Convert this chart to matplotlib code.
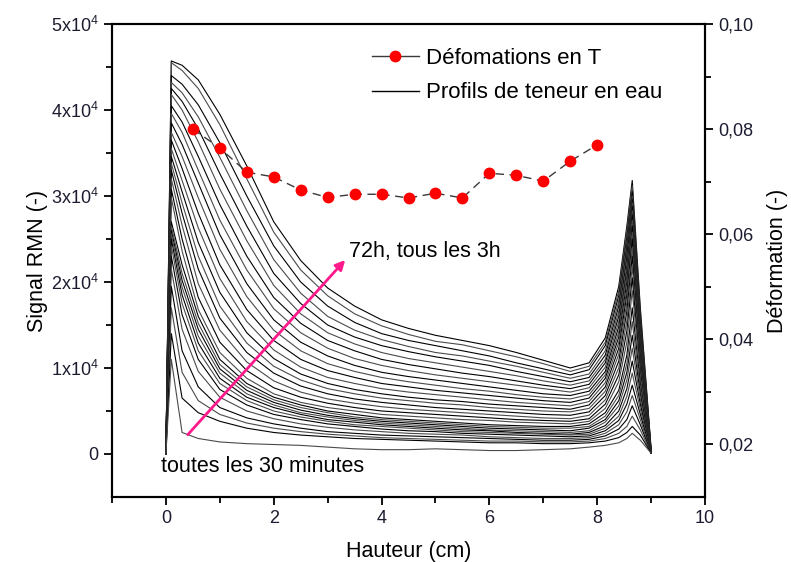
import numpy as np
import matplotlib
matplotlib.use('Agg')
import matplotlib.pyplot as plt
from matplotlib.lines import Line2D
from matplotlib.ticker import MultipleLocator, FixedLocator, FixedFormatter

plt.rcParams['font.family'] = ['Liberation Sans', 'DejaVu Sans']
plt.rcParams['mathtext.fontset'] = 'custom'
plt.rcParams['mathtext.rm'] = 'Liberation Sans'
plt.rcParams['mathtext.it'] = 'Liberation Sans:italic'

# deformation measured every 0.5 cm
def_x = [0.5, 1.0, 1.5, 2.0, 2.5, 3.0, 3.5, 4.0, 4.5, 5.0, 5.5, 6.0, 6.5, 7.0, 7.5, 8.0]
def_y = [0.0800, 0.0764, 0.0718, 0.0709, 0.0684, 0.0670, 0.0676, 0.0676,
         0.0669, 0.0678, 0.0669, 0.0716, 0.0712, 0.0701, 0.0739, 0.0770]

# NMR profiles (signal in units of 1e3), sampled along the height
prof_x = [0.0, 0.1, 0.3, 0.6, 1.0, 1.5, 2.0, 2.5, 3.0, 3.5, 4.0, 4.5, 5.0,
          5.5, 6.0, 6.5, 7.0, 7.5, 7.85, 8.15, 8.4, 8.55, 8.65, 8.8, 9.0]

# every 3h up to 72h
late_profiles = [
    [0, 45.7, 45.2, 43.5, 39.5, 33.5, 27.0, 22.5, 19.3, 17.2, 15.6, 14.6, 13.8, 13.2, 12.6, 11.8, 10.9, 10.0, 10.6, 13.5, 19.5, 26.5, 31.8, 17.0, 0.6],
    [0, 45.5, 44.6, 42.5, 38.3, 32.0, 25.8, 21.4, 18.4, 16.3, 14.9, 13.9, 13.1, 12.7, 12.0, 11.3, 10.5, 9.6, 10.2, 13.0, 19.0, 26.0, 31.2, 16.5, 0.5],
    [0, 44.0, 43.0, 40.6, 36.2, 30.0, 24.2, 20.0, 17.2, 15.3, 14.0, 13.2, 12.6, 12.0, 11.4, 10.6, 9.9, 9.2, 9.8, 12.6, 18.4, 25.2, 30.5, 16.0, 0.4],
    [0, 43.2, 42.0, 39.2, 34.5, 28.3, 22.6, 18.7, 16.0, 14.4, 13.3, 12.5, 11.8, 11.4, 10.8, 10.2, 9.5, 8.8, 9.3, 12.0, 17.8, 24.6, 30.0, 15.4, 0.3],
    [0, 42.5, 41.0, 37.8, 32.6, 26.5, 21.0, 17.5, 15.0, 13.6, 12.6, 11.9, 11.3, 10.8, 10.3, 9.6, 9.0, 8.4, 8.9, 11.5, 17.2, 24.0, 29.6, 15.0, 0.3],
    [0, 41.8, 40.0, 36.3, 30.8, 24.8, 19.6, 16.3, 14.1, 12.8, 11.8, 11.1, 10.6, 10.1, 9.6, 9.1, 8.5, 8.0, 8.5, 11.0, 16.6, 23.4, 29.2, 14.6, 0.2],
    [0, 40.5, 38.6, 34.6, 29.0, 23.0, 18.2, 15.2, 13.2, 12.0, 11.0, 10.4, 9.9, 9.4, 9.0, 8.5, 8.0, 7.6, 8.1, 10.6, 16.0, 22.8, 28.8, 14.2, 0.2],
    [0, 39.6, 37.4, 33.0, 27.2, 21.4, 16.9, 14.1, 12.3, 11.1, 10.3, 9.7, 9.2, 8.8, 8.4, 8.0, 7.6, 7.2, 7.7, 10.1, 15.4, 22.0, 28.3, 13.8, 0.2],
    [0, 38.5, 36.0, 31.5, 25.5, 19.8, 15.6, 13.0, 11.4, 10.3, 9.5, 9.0, 8.6, 8.2, 7.8, 7.4, 7.0, 6.8, 7.3, 9.6, 14.8, 21.4, 27.8, 13.4, 0.1],
    [0, 37.4, 34.6, 29.8, 23.8, 18.3, 14.4, 12.0, 10.5, 9.6, 8.9, 8.4, 8.0, 7.6, 7.3, 6.9, 6.6, 6.4, 6.9, 9.2, 14.2, 20.8, 27.2, 13.0, 0.1],
    [0, 36.5, 33.2, 28.0, 22.0, 16.8, 13.2, 11.0, 9.7, 8.9, 8.2, 7.8, 7.4, 7.1, 6.8, 6.5, 6.2, 6.0, 6.5, 8.8, 13.6, 20.0, 26.5, 12.6, 0.1],
    [0, 35.5, 31.8, 26.3, 20.4, 15.4, 12.1, 10.1, 8.9, 8.2, 7.6, 7.2, 6.9, 6.6, 6.3, 6.0, 5.8, 5.6, 6.1, 8.3, 13.0, 19.2, 25.8, 12.2, 0.1],
    [0, 34.6, 30.5, 24.6, 18.8, 14.1, 11.1, 9.3, 8.2, 7.5, 7.0, 6.6, 6.3, 6.1, 5.8, 5.6, 5.4, 5.2, 5.7, 7.8, 12.3, 18.5, 25.0, 11.8, 0.1],
    [0, 33.8, 29.2, 23.0, 17.2, 12.9, 10.2, 8.6, 7.6, 7.0, 6.5, 6.2, 5.9, 5.7, 5.4, 5.2, 5.0, 4.9, 5.3, 7.3, 11.6, 17.6, 24.0, 11.3, 0.1],
    [0, 33.0, 28.0, 21.5, 15.8, 11.8, 9.4, 7.9, 7.0, 6.4, 6.0, 5.7, 5.4, 5.2, 5.0, 4.8, 4.6, 4.5, 4.9, 6.8, 10.8, 16.6, 23.0, 10.8, 0.1],
    [0, 32.0, 26.6, 19.8, 14.4, 10.7, 8.5, 7.2, 6.4, 5.9, 5.5, 5.2, 5.0, 4.8, 4.6, 4.4, 4.2, 4.1, 4.5, 6.3, 10.0, 15.5, 21.8, 10.2, 0.1],
    [0, 30.8, 25.0, 18.2, 13.0, 9.7, 7.7, 6.6, 5.9, 5.4, 5.0, 4.8, 4.6, 4.4, 4.2, 4.0, 3.9, 3.8, 4.1, 5.8, 9.2, 14.3, 20.5, 9.6, 0.1],
    [0, 29.8, 23.6, 16.8, 11.8, 8.8, 7.0, 6.0, 5.4, 5.0, 4.6, 4.4, 4.2, 4.0, 3.9, 3.7, 3.6, 3.5, 3.8, 5.3, 8.4, 13.0, 19.0, 9.0, 0.1],
]

# every 30 minutes at the start
early_profiles = [
    [0, 27.0, 22.0, 16.0, 11.0, 8.2, 6.6, 5.7, 5.0, 4.6, 4.2, 4.0, 3.8, 3.6, 3.4, 3.3, 3.2, 3.2, 3.5, 4.8, 7.4, 11.5, 17.0, 8.2, 0.1],
    [0, 26.5, 21.0, 15.2, 10.4, 7.8, 6.3, 5.4, 4.8, 4.3, 4.0, 3.8, 3.6, 3.4, 3.2, 3.1, 3.0, 3.0, 3.2, 4.4, 6.8, 10.5, 15.4, 7.6, 0.1],
    [0, 26.0, 20.2, 14.5, 9.9, 7.4, 6.0, 5.1, 4.5, 4.1, 3.8, 3.6, 3.4, 3.2, 3.0, 2.9, 2.8, 2.7, 3.0, 4.0, 6.2, 9.5, 13.8, 7.0, 0.1],
    [0, 25.6, 19.4, 13.7, 9.4, 7.0, 5.7, 4.8, 4.3, 3.9, 3.6, 3.4, 3.2, 3.0, 2.8, 2.7, 2.6, 2.5, 2.7, 3.7, 5.6, 8.6, 12.3, 6.4, 0.1],
    [0, 25.0, 18.5, 12.9, 8.8, 6.6, 5.4, 4.6, 4.0, 3.7, 3.4, 3.2, 3.0, 2.8, 2.7, 2.5, 2.4, 2.3, 2.5, 3.3, 5.0, 7.6, 10.8, 5.8, 0.1],
    [0, 24.2, 17.5, 12.0, 8.2, 6.2, 5.0, 4.3, 3.8, 3.4, 3.2, 3.0, 2.8, 2.6, 2.5, 2.4, 2.3, 2.2, 2.3, 3.0, 4.4, 6.7, 9.4, 5.2, 0.1],
    [0, 23.0, 16.2, 11.0, 7.5, 5.7, 4.6, 4.0, 3.5, 3.2, 2.9, 2.7, 2.6, 2.4, 2.3, 2.2, 2.1, 2.0, 2.1, 2.7, 3.9, 5.8, 8.0, 4.6, 0.1],
    [0, 21.5, 14.5, 9.6, 6.6, 5.0, 4.1, 3.5, 3.1, 2.8, 2.6, 2.4, 2.3, 2.2, 2.0, 1.9, 1.8, 1.8, 1.9, 2.4, 3.4, 4.9, 6.8, 4.0, 0.1],
    [0, 19.5, 12.0, 7.8, 5.4, 4.2, 3.5, 3.0, 2.6, 2.4, 2.2, 2.1, 2.0, 1.9, 1.8, 1.7, 1.6, 1.6, 1.7, 2.1, 2.9, 4.0, 5.6, 3.4, 0.1],
    [0, 17.0, 9.5, 6.2, 4.6, 3.6, 3.0, 2.6, 2.3, 2.1, 1.9, 1.8, 1.7, 1.6, 1.5, 1.5, 1.4, 1.4, 1.5, 1.8, 2.4, 3.2, 4.4, 2.8, 0.1],
    [0, 14.0, 6.5, 4.8, 3.8, 3.0, 2.5, 2.2, 2.0, 1.8, 1.7, 1.6, 1.5, 1.4, 1.3, 1.3, 1.2, 1.2, 1.3, 1.5, 1.9, 2.5, 3.2, 2.2, 0.1],
    [0, 11.0, 2.5, 1.8, 1.4, 1.2, 1.1, 1.0, 0.8, 0.6, 0.5, 0.5, 0.6, 0.5, 0.4, 0.4, 0.5, 0.6, 0.8, 1.0, 1.3, 1.8, 2.4, 1.6, 0.1],
]

y_labels = ['0', '1x10$^4$', '2x10$^4$', '3x10$^4$', '4x10$^4$', '5x10$^4$']
def_labels = ['0,02', '0,04', '0,06', '0,08', '0,10']

tick_color = '#1c1c30'

fig = plt.figure(figsize=(7.91, 5.62), dpi=100)
ax = fig.add_axes([0.1416, 0.1157, 0.7497, 0.8416])

all_profiles = late_profiles + early_profiles
for k, prof in enumerate(all_profiles):
    col = '#000000' if k % 2 == 0 else '#4a4a4a'
    ax.plot(prof_x, np.array(prof) * 1000, color=col, lw=0.8)

ax.set_xlim(-1, 10)
ax.set_ylim(-5000, 50000)
ax.xaxis.set_major_locator(MultipleLocator(2))
ax.xaxis.set_minor_locator(FixedLocator([-1, 1, 3, 5, 7, 9]))
ax.yaxis.set_major_locator(FixedLocator([0, 10000, 20000, 30000, 40000, 50000]))
ax.yaxis.set_major_formatter(FixedFormatter(y_labels))
ax.yaxis.set_minor_locator(FixedLocator([5000, 15000, 25000, 35000, 45000]))
ax.tick_params(which='major', direction='out', length=6, width=1.3, labelsize=13, labelcolor=tick_color)
ax.tick_params(which='minor', direction='out', length=4, width=1.3)
ax.set_xlabel('Hauteur (cm)', fontsize=15.5, labelpad=10)
ax.set_ylabel('Signal RMN (-)', fontsize=15.5, labelpad=2)
for s in ax.spines.values():
    s.set_linewidth(1.5)

ax2 = ax.twinx()
ax2.plot(def_x, def_y, ls=(0, (6, 4)), color='#3a3a3a', lw=1.0,
         marker='o', markersize=7.5, markerfacecolor='red', markeredgecolor='red')
ax2.set_ylim(0.01, 0.10)
ax2.yaxis.set_major_locator(FixedLocator([0.02, 0.04, 0.06, 0.08, 0.10]))
ax2.yaxis.set_major_formatter(FixedFormatter(def_labels))
ax2.yaxis.set_minor_locator(FixedLocator([0.03, 0.05, 0.07, 0.09]))
ax2.tick_params(which='major', direction='out', length=6, width=1.3, labelsize=13, labelcolor=tick_color)
ax2.tick_params(which='minor', direction='out', length=4, width=1.3)
ax2.set_ylabel('Déformation (-)', fontsize=15.5, labelpad=10)
for s in ax2.spines.values():
    s.set_linewidth(1.5)

# arrow and notes
ax.annotate('', xy=(3.36, 22800), xytext=(0.37, 2000),
            arrowprops=dict(arrowstyle='-|>', color='#ff1a8c', lw=2, mutation_scale=14))
ax.text(3.4, 23500, '72h, tous les 3h', fontsize=15.5, ha='left', va='center')
ax.text(-0.09, -1500, 'toutes les 30 minutes', fontsize=15.5, ha='left', va='center')

handles = [Line2D([], [], ls='-', color='#3a3a3a', lw=1.0, marker='o', markersize=7.5,
                  markerfacecolor='red', markeredgecolor='red'),
           Line2D([], [], color='black', lw=1.0)]
fig.legend(handles, ['Défomations en T', 'Profils de teneur en eau'],
           loc='upper left', bbox_to_anchor=(0.445, 0.95), frameon=False,
           fontsize=16, handlelength=2.1, handletextpad=0.35, labelspacing=0.6)

fig.savefig('out.png', dpi=100)
